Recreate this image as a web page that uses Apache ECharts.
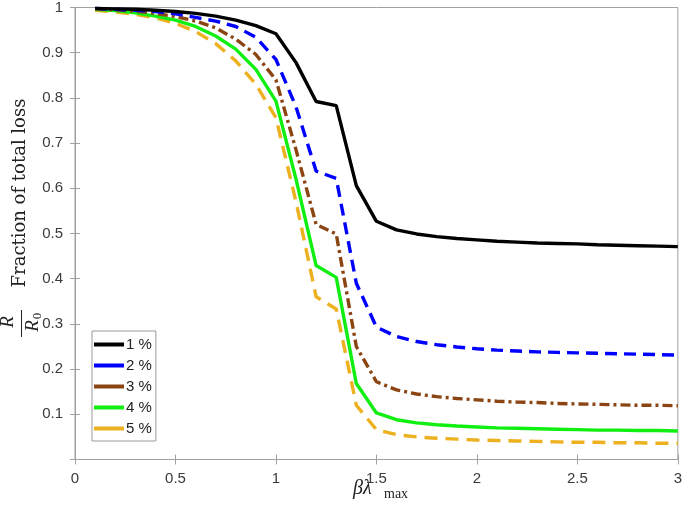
<!DOCTYPE html>
<html><head><meta charset="utf-8">
<script src="https://cdn.jsdelivr.net/npm/echarts@6/dist/echarts.min.js"></script>
<style>html,body{margin:0;padding:0;background:#fff}#c{width:685px;height:506px}</style>
</head><body><div id="c"></div>
<script>
var xs = [0.1,0.2,0.3,0.4,0.5,0.6,0.7,0.8,0.9,1.0,1.1,1.2,1.3,1.4,1.5,1.6,1.7,1.8,1.9,2.0,2.1,2.2,2.3,2.4,2.5,2.6,2.7,2.8,2.9,3.0];
var p1 = [0.998,0.997,0.996,0.994,0.991,0.987,0.981,0.972,0.960,0.942,0.878,0.792,0.783,0.606,0.527,0.508,0.499,0.493,0.489,0.486,0.483,0.481,0.479,0.478,0.477,0.475,0.474,0.473,0.472,0.471];
var p2 = [0.998,0.996,0.994,0.991,0.986,0.978,0.970,0.958,0.934,0.885,0.780,0.638,0.622,0.390,0.293,0.272,0.261,0.254,0.249,0.245,0.242,0.240,0.238,0.237,0.236,0.235,0.234,0.233,0.232,0.231];
var p3 = [0.997,0.995,0.992,0.987,0.980,0.970,0.955,0.930,0.896,0.840,0.685,0.520,0.499,0.250,0.172,0.154,0.145,0.139,0.135,0.132,0.129,0.127,0.126,0.124,0.123,0.122,0.121,0.120,0.120,0.119];
var p4 = [0.996,0.993,0.988,0.981,0.972,0.958,0.937,0.908,0.863,0.793,0.620,0.429,0.403,0.168,0.103,0.088,0.081,0.077,0.074,0.072,0.070,0.069,0.068,0.067,0.066,0.065,0.065,0.064,0.064,0.063];
var p5 = [0.994,0.990,0.985,0.977,0.965,0.947,0.920,0.882,0.830,0.756,0.570,0.360,0.333,0.120,0.066,0.055,0.050,0.047,0.045,0.043,0.042,0.041,0.040,0.039,0.038,0.038,0.037,0.037,0.036,0.036];
var names = ['1 %','2 %','3 %','4 %','5 %'];
var xTicks = [0,0.5,1,1.5,2,2.5,3];

function pairs(ys){ return xs.map(function(x,i){ return [x, ys[i]]; }); }
var styles = [
  {color:'#000000', type:'solid'},
  {color:'#0000ff', type:[12,7]},
  {color:'#8b4513', type:[10,4,3,4]},
  {color:'#11ee11', type:'solid'},
  {color:'#edb120', type:[13,8]}
];
var all = [p1,p2,p3,p4,p5];
var series = all.map(function(d,i){
  return {name:names[i], type:'line', xAxisIndex:0, yAxisIndex:0, data:pairs(d), symbol:'none', showSymbol:false,
    lineStyle:{color:styles[i].color, width:3.4, type:styles[i].type}, itemStyle:{color:styles[i].color}, z:10-i, animation:false};
});
var axisCol = '#a0a0a0';
var chart = echarts.init(document.getElementById('c'), null, {renderer:'canvas'});
chart.setOption({
  animation:false,
  grid:{left:75, right:4, top:5, bottom:46.5, show:true, borderColor:axisCol, borderWidth:1},
  legend:{orient:'vertical', left:92, top:331, itemWidth:30, itemHeight:4, itemGap:6,
    backgroundColor:'#fff', borderColor:'#999', borderWidth:1, padding:[6,4,5,2],
    textStyle:{fontFamily:'Liberation Sans', fontSize:15, color:'#222', padding:[0,0,0,-3]},
    data:names.map(function(n){return {name:n, icon:'rect'};})},
  xAxis:[{type:'value', min:0, max:3, interval:0.5, position:'bottom',
    axisLine:{lineStyle:{color:axisCol}}, axisTick:{inside:true, length:5, lineStyle:{color:axisCol}},
    splitLine:{show:false},
    axisLabel:{fontFamily:'Liberation Sans', fontSize:15, color:'#3a3a3a', margin:12,
      formatter:function(v){return xTicks.indexOf(v)>=0 ? String(v) : '';}}},
    {type:'value', min:0, max:3, interval:0.5, position:'top',
    axisLine:{lineStyle:{color:axisCol}}, axisTick:{inside:true, length:5, lineStyle:{color:axisCol}},
    splitLine:{show:false}, axisLabel:{show:false}}],
  yAxis:[{type:'value', min:0, max:1, interval:0.1, position:'left',
    axisLine:{show:true, lineStyle:{color:axisCol}}, axisTick:{show:true, inside:true, length:5, lineStyle:{color:axisCol}},
    splitLine:{show:false},
    axisLabel:{fontFamily:'Liberation Sans', fontSize:15, color:'#3a3a3a', margin:12,
      formatter:function(v){ if (Math.abs(v)<1e-9) return ''; return String(Math.round(v*10)/10); }}},
    {type:'value', min:0, max:1, interval:0.1, position:'right',
    axisLine:{show:true, lineStyle:{color:axisCol}}, axisTick:{show:true, inside:true, length:5, lineStyle:{color:axisCol}},
    splitLine:{show:false}, axisLabel:{show:false}}],
  graphic:[
    {type:'text', x:20, y:193, rotation:Math.PI/2,
      style:{text:'Fraction of total loss', font:'18px "DejaVu Serif"', fill:'#222', textAlign:'center', textVerticalAlign:'middle'}},
    {type:'text', x:8, y:322, rotation:Math.PI/2,
      style:{text:'R', font:'italic 19px "Liberation Serif"', fill:'#222', textAlign:'center', textVerticalAlign:'middle'}},
    {type:'line', shape:{x1:21.5, y1:310, x2:21.5, y2:337}, style:{stroke:'#222', lineWidth:1}},
    {type:'text', x:33, y:326, rotation:Math.PI/2,
      style:{text:'R', font:'italic 19px "Liberation Serif"', fill:'#222', textAlign:'center', textVerticalAlign:'middle'}},
    {type:'text', x:38, y:316, rotation:Math.PI/2,
      style:{text:'0', font:'13px "Liberation Serif"', fill:'#222', textAlign:'center', textVerticalAlign:'middle'}},
    {type:'text', x:353, y:489,
      style:{text:'βλ', font:'italic 20px "Liberation Serif"', fill:'#222', textAlign:'left', textVerticalAlign:'middle'}},
    {type:'text', x:384, y:494,
      style:{text:'max', font:'14px "Liberation Serif"', fill:'#222', textAlign:'left', textVerticalAlign:'middle'}}
  ],
  series:series
});
</script></body></html>
